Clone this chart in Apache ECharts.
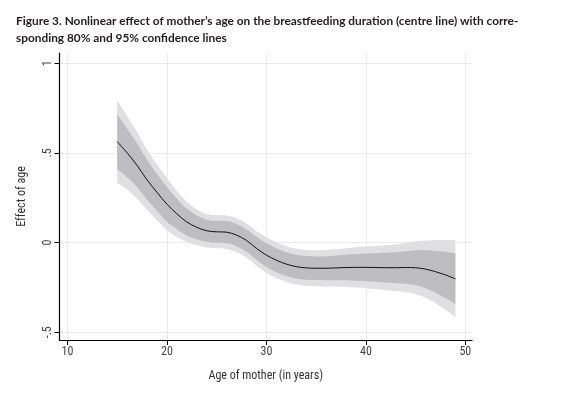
<!DOCTYPE html>
<html><head><meta charset="utf-8">
<script src="https://cdn.jsdelivr.net/npm/echarts@6/dist/echarts.min.js"></script>
<style>html,body{margin:0;padding:0;background:#fff}#c{width:575px;height:395px}</style>
</head><body><div id="c"></div>
<script>
const ages    = [15,16,17,18,19,20,21,22,23,24,25,26,27,28,29,30,31,32,33,34,35,36,37,38,39,40,41,42,43,44,45,46,47,48,49];
const centre  = [0.563,0.50,0.43,0.35,0.28,0.214,0.16,0.115,0.085,0.066,0.06,0.058,0.042,0.012,-0.032,-0.07,-0.098,-0.12,-0.134,-0.141,-0.143,-0.143,-0.141,-0.139,-0.138,-0.138,-0.139,-0.14,-0.14,-0.139,-0.14,-0.148,-0.162,-0.18,-0.202];
const upper95 = [0.793,0.705,0.615,0.518,0.435,0.359,0.288,0.228,0.185,0.159,0.152,0.151,0.136,0.107,0.065,0.03,0.003,-0.02,-0.034,-0.041,-0.043,-0.041,-0.036,-0.031,-0.026,-0.022,-0.019,-0.015,-0.01,-0.001,0.008,0.012,0.014,0.015,0.013];
const upper80 = [0.717,0.635,0.552,0.461,0.382,0.312,0.245,0.19,0.151,0.128,0.121,0.12,0.104,0.075,0.032,-0.004,-0.031,-0.054,-0.068,-0.075,-0.077,-0.076,-0.072,-0.068,-0.064,-0.061,-0.06,-0.057,-0.054,-0.048,-0.042,-0.042,-0.046,-0.051,-0.06];
const lower80 = [0.409,0.365,0.308,0.239,0.178,0.116,0.075,0.04,0.019,0.004,-0.001,-0.004,-0.02,-0.051,-0.096,-0.136,-0.165,-0.186,-0.2,-0.207,-0.209,-0.21,-0.21,-0.21,-0.212,-0.215,-0.218,-0.223,-0.226,-0.23,-0.238,-0.254,-0.278,-0.309,-0.344];
const lower95 = [0.333,0.295,0.245,0.182,0.125,0.069,0.032,0.002,-0.015,-0.027,-0.032,-0.035,-0.052,-0.083,-0.129,-0.17,-0.199,-0.22,-0.234,-0.241,-0.243,-0.245,-0.246,-0.247,-0.25,-0.254,-0.259,-0.265,-0.27,-0.277,-0.288,-0.308,-0.338,-0.375,-0.417];
const xTicks = [10,20,30,40,50];
const yTicks = [-0.5,0,0.5,1];
const yTickLabels = ['-.5','0','.5','1'];
const titleText = 'Figure 3. Nonlinear effect of mother\u2019s age on the breastfeeding duration (centre line) with corre-\nsponding 80% and 95% confidence lines';
const xName = 'Age of mother (in years)';
const yName = 'Effect of age';

const narrow = "'Liberation Sans Narrow','Arial Narrow','Roboto Condensed',sans-serif";

// Catmull-Rom through projected points -> cubic bezier path segments
function curveSeg(pts, start) {
  let d = start ? 'M' + pts[0][0] + ' ' + pts[0][1] : 'L' + pts[0][0] + ' ' + pts[0][1];
  for (let i = 0; i < pts.length - 1; i++) {
    const p0 = pts[Math.max(i - 1, 0)], p1 = pts[i], p2 = pts[i + 1], p3 = pts[Math.min(i + 2, pts.length - 1)];
    const c1 = [p1[0] + (p2[0] - p0[0]) / 6, p1[1] + (p2[1] - p0[1]) / 6];
    const c2 = [p2[0] - (p3[0] - p1[0]) / 6, p2[1] - (p3[1] - p1[1]) / 6];
    d += ' C' + c1[0] + ' ' + c1[1] + ' ' + c2[0] + ' ' + c2[1] + ' ' + p2[0] + ' ' + p2[1];
  }
  return d;
}
function bandSeries(up, lo, color, z) {
  return {
    type: 'custom', coordinateSystem: 'cartesian2d', silent: true, z: z, clip: true,
    data: [[ages[0], lo[0]]],
    renderItem: (params, api) => {
      const top = ages.map((a, i) => api.coord([a, up[i]]));
      const bot = ages.map((a, i) => api.coord([a, lo[i]])).reverse();
      const d = curveSeg(top, true) + ' ' + curveSeg(bot, false) + ' Z';
      return { type: 'path', shape: { pathData: d }, style: { fill: color, stroke: null } };
    }
  };
}
function lineSeries(vals, color, z) {
  return {
    type: 'custom', coordinateSystem: 'cartesian2d', silent: true, z: z, clip: true,
    data: [[ages[0], vals[0]]],
    renderItem: (params, api) => {
      const pts = ages.map((a, i) => api.coord([a, vals[i]]));
      return { type: 'path', shape: { pathData: curveSeg(pts, true) }, style: { fill: null, stroke: color, lineWidth: 1 } };
    }
  };
}

const chart = echarts.init(document.getElementById('c'), null, {renderer:'canvas'});
chart.setOption({
  animation:false,
  backgroundColor:'#fff',
  title:{text:titleText,left:11,top:8,textStyle:{fontFamily:"Lato,'Open Sans',sans-serif",fontWeight:'bold',fontSize:11.85,lineHeight:17,color:'#231f20'}},
  grid:{left:59.5,right:103,top:53,bottom:55},
  xAxis:{type:'value',min:9.196,max:50.67,
    axisLine:{show:true,onZero:false,lineStyle:{color:'#000',width:1.2}},
    axisTick:{show:true,length:5,customValues:xTicks,lineStyle:{color:'#000',width:1}},
    axisLabel:{customValues:xTicks,margin:6,fontSize:12,color:'#444',fontFamily:narrow},
    splitLine:{show:true,lineStyle:{color:'#ebebeb',width:1}},
    name:xName,nameLocation:'middle',nameGap:30,
    nameTextStyle:{fontSize:12,color:'#333',fontFamily:narrow}},
  yAxis:{type:'value',min:-0.543,max:1.057,
    axisLine:{show:true,onZero:false,lineStyle:{color:'#000',width:1.2}},
    axisTick:{show:true,length:5,customValues:yTicks,lineStyle:{color:'#000',width:1}},
    axisLabel:{customValues:yTicks,rotate:90,margin:6,fontSize:12,color:'#444',fontFamily:narrow,
      formatter:(v)=>{const i=yTicks.findIndex(t=>Math.abs(t-v)<1e-6);return i>=0?yTickLabels[i]:'';}},
    splitLine:{show:true,lineStyle:{color:'#ebebeb',width:1}},
    name:yName,nameLocation:'middle',nameGap:32,
    nameTextStyle:{fontSize:12,color:'#333',fontFamily:narrow}},
  series:[
    bandSeries(upper95, lower95, '#e0e0e2', 1),
    bandSeries(upper80, lower80, '#bebec2', 2),
    lineSeries(centre, '#111', 3)
  ]
});
</script></body></html>
